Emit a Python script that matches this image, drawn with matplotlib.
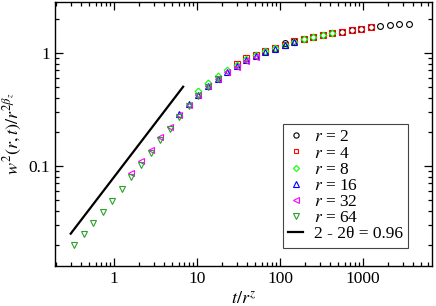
import matplotlib
matplotlib.use("Agg")
import matplotlib.pyplot as plt
from matplotlib.ticker import LogLocator, NullFormatter, FixedLocator, FixedFormatter

plt.rcParams['font.family'] = 'serif'
plt.rcParams['font.serif'] = ['Liberation Serif', 'DejaVu Serif']
plt.rcParams['mathtext.fontset'] = 'stix'

# Data
x_r64 = [0.33, 0.43, 0.56, 0.73, 0.955, 1.245, 1.62, 2.12, 2.76, 3.60, 4.69, 6.12, 7.98, 10.4, 13.6, 17.7]
y_r64 = [0.0198, 0.0247, 0.0309, 0.0389, 0.0491, 0.0626, 0.080, 0.102, 0.130, 0.168, 0.210, 0.272, 0.337, 0.41, 0.50, 0.58]

x_r32 = [1.62, 2.12, 2.76, 3.60, 4.69, 6.12, 7.98, 10.4, 13.6, 17.7, 23.1, 30.1, 39.3, 51.2]
y_r32 = [0.086, 0.109, 0.138, 0.178, 0.222, 0.283, 0.347, 0.42, 0.505, 0.585, 0.67, 0.755, 0.85, 0.925]

x_r16 = [6.12, 7.98, 10.4, 13.6, 17.7, 23.1, 30.1, 39.3, 51.2, 66.8, 87.1, 113.6, 148]
y_r16 = [0.285, 0.35, 0.425, 0.51, 0.59, 0.675, 0.765, 0.865, 0.94, 1.02, 1.09, 1.16, 1.24]

x_r8 = [10.4, 13.6, 17.7, 23.1, 30.1, 39.3, 51.2, 66.8, 87.1, 113.6, 148, 193, 252, 329, 429]
y_r8 = [0.46, 0.545, 0.62, 0.70, 0.785, 0.875, 0.95, 1.03, 1.10, 1.17, 1.25, 1.31, 1.38, 1.43, 1.49]

x_r4 = [30.1, 39.3, 51.2, 66.8, 87.1, 113.6, 148, 193, 252, 329, 429, 559, 729, 951, 1240]
y_r4 = [0.80, 0.89, 0.96, 1.04, 1.11, 1.18, 1.26, 1.32, 1.39, 1.44, 1.50, 1.54, 1.59, 1.63, 1.69]

x_r2 = [113.6, 148, 193, 252, 329, 429, 559, 729, 951, 1240, 1617, 2109, 2750, 3586]
y_r2 = [1.22, 1.28, 1.33, 1.39, 1.44, 1.50, 1.54, 1.59, 1.63, 1.68, 1.71, 1.75, 1.78, 1.80]

# power-law guide line, slope 2 - 2theta = 0.96
x_fit = [0.30, 6.8]
y_fit = [0.025, 0.50]

series = [
    (x_r2, y_r2, 'o', '#000000', 4.2, r'$r$ = 2'),
    (x_r4, y_r4, 's', '#ff0000', 3.8, r'$r$ = 4'),
    (x_r8, y_r8, 'D', '#00ff00', 3.4, r'$r$ = 8'),
    (x_r16, y_r16, '^', '#0000ff', 4.4, r'$r$ = 16'),
    (x_r32, y_r32, '<', '#ff00ff', 4.4, r'$r$ = 32'),
    (x_r64, y_r64, 'v', '#2ca02c', 4.4, r'$r$ = 64'),
]

fig = plt.figure(figsize=(4.36, 3.06), dpi=100)
ax = fig.add_axes([0.127, 0.131, 0.863, 0.8634])

for xs, ys, m, c, ms, lab in series:
    ax.plot(xs, ys, linestyle='none', marker=m, markersize=ms,
            markerfacecolor='none', markeredgecolor=c, markeredgewidth=0.8, label=lab)
ax.plot(x_fit, y_fit, color='black', lw=1.6, label='2 - 2θ = 0.96')

ax.set_xscale('log')
ax.set_yscale('log')
ax.set_xlim(0.196, 6730)
ax.set_ylim(0.01295, 2.83)

ax.xaxis.set_major_locator(FixedLocator([1, 10, 100, 1000]))
ax.xaxis.set_major_formatter(FixedFormatter(['1', '10', '100', '1000']))
ax.yaxis.set_major_locator(FixedLocator([0.1, 1]))
ax.yaxis.set_major_formatter(FixedFormatter(['0.1', '1']))
for a in (ax.xaxis, ax.yaxis):
    a.set_minor_locator(LogLocator(base=10, subs=range(2, 10), numticks=20))
    a.set_minor_formatter(NullFormatter())

ax.tick_params(which='both', direction='in', top=True, right=True, labelsize=12.5, width=0.9)
ax.tick_params(which='major', length=6, pad=4)
ax.tick_params(which='minor', length=3)
for s in ax.spines.values():
    s.set_linewidth(1.0)

ax.set_xlabel(r'$t/r^z$', fontsize=13, labelpad=2)
ax.set_ylabel(r'$w^2(r,t)/r^{2\beta_z}$', fontsize=13, labelpad=3)

leg = ax.legend(loc='upper left', bbox_to_anchor=(0.604, 0.537), borderaxespad=0,
                fontsize=12.5, handlelength=0.9, handletextpad=0.6, labelspacing=0.0,
                borderpad=0.3, fancybox=False, framealpha=1, edgecolor='#444444',
                markerscale=0.9)
leg.get_frame().set_linewidth(0.8)

fig.savefig('out.png', dpi=100)
